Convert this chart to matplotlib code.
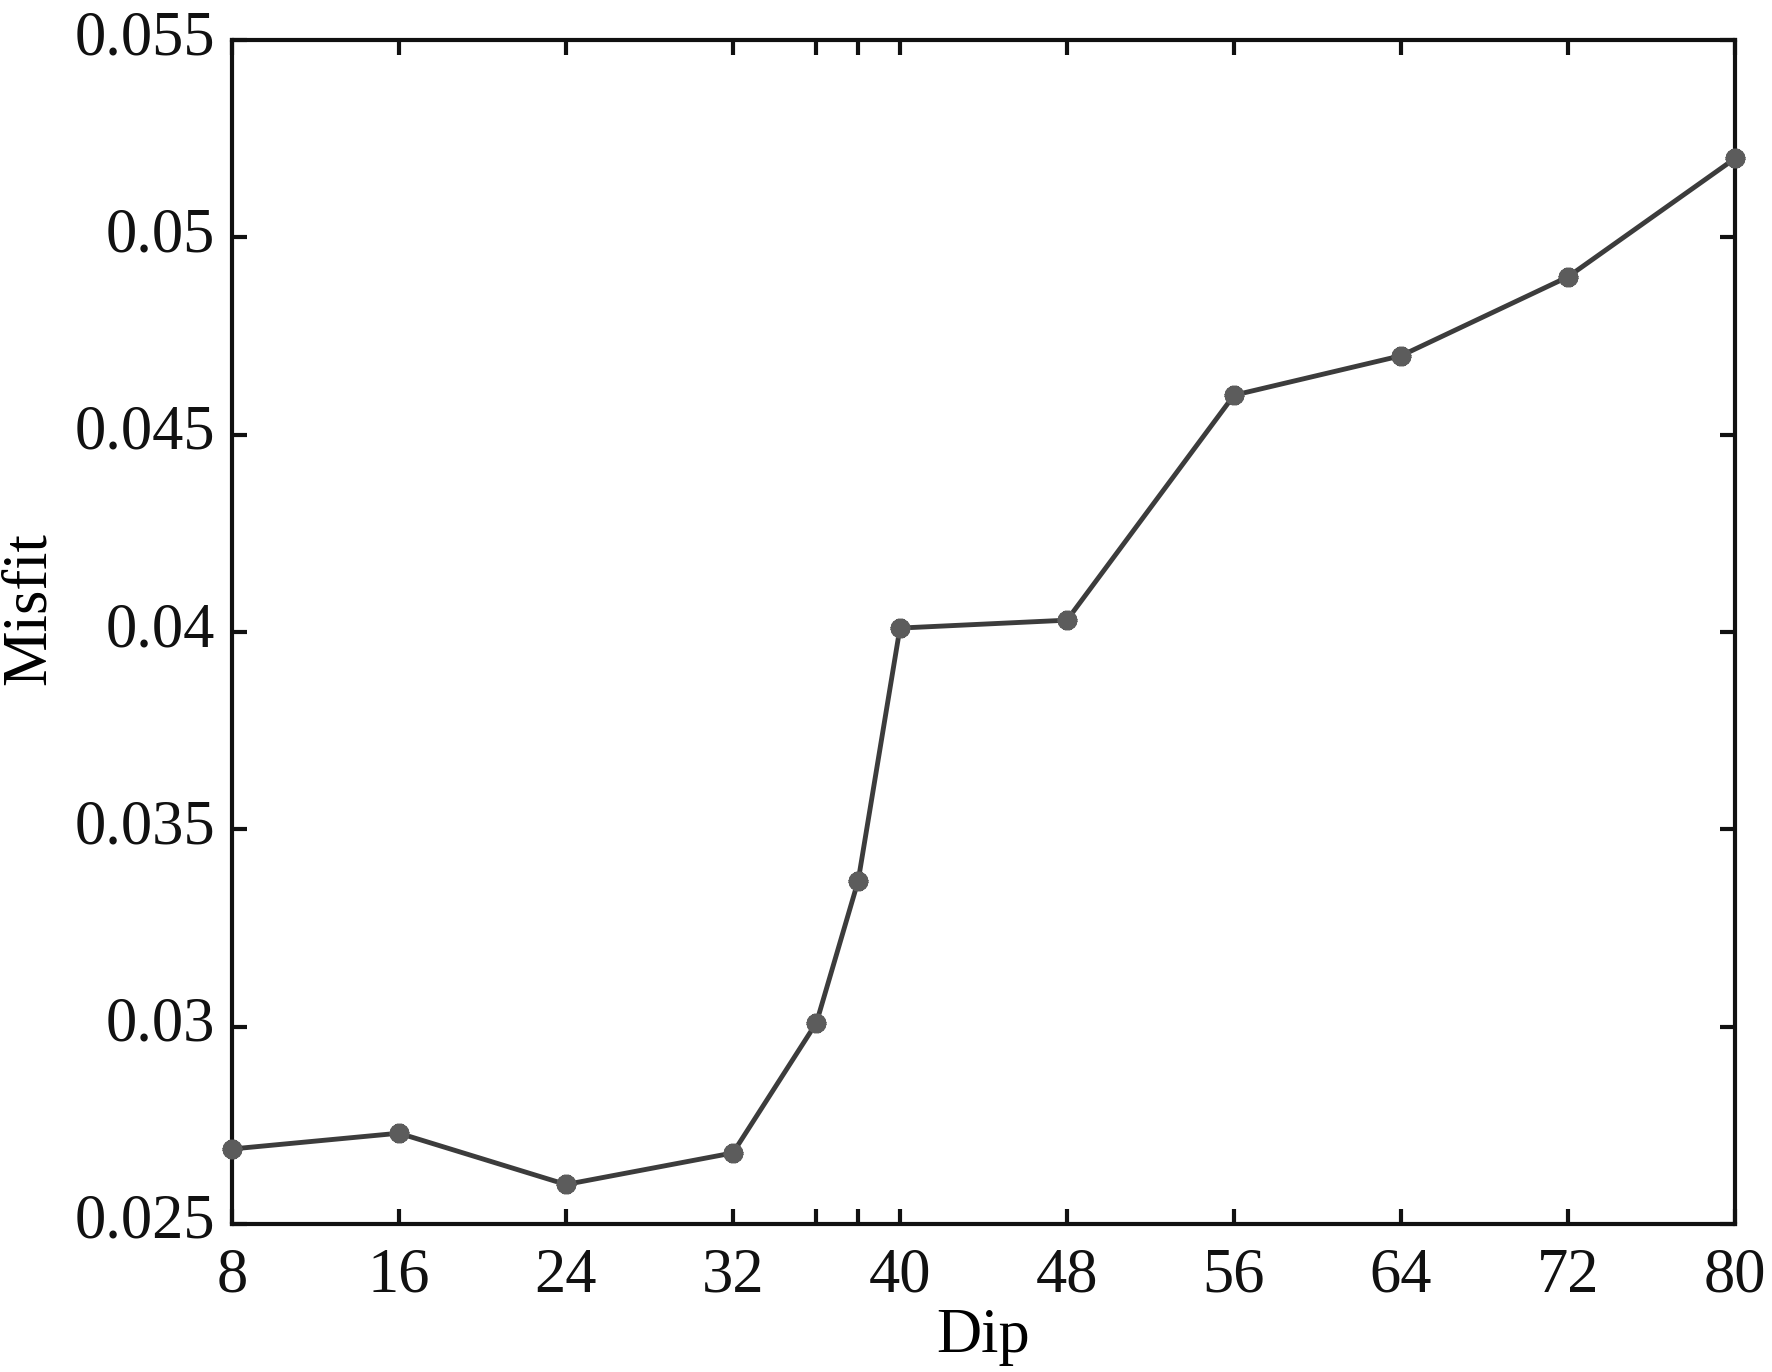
import matplotlib
matplotlib.use('Agg')
import matplotlib.pyplot as plt
from matplotlib.transforms import ScaledTranslation

# misfit against fault dip
dip = [8, 16, 24, 32, 36, 38, 40, 48, 56, 64, 72, 80]
misfit = [0.0269, 0.0273, 0.0260, 0.0268, 0.0301, 0.0337, 0.0401, 0.0403, 0.0460, 0.0470, 0.0490, 0.0520]

xtick_vals = [8, 16, 24, 32, 36, 38, 40, 48, 56, 64, 72, 80]
xtick_labels = ['8', '16', '24', '32', '', '', '40', '48', '56', '64', '72', '80']
ytick_vals = [0.025, 0.03, 0.035, 0.04, 0.045, 0.05, 0.055]
ytick_labels = ['0.025', '0.03', '0.035', '0.04', '0.045', '0.05', '0.055']

plt.rcParams['font.family'] = ['Liberation Serif', 'DejaVu Serif']

fig = plt.figure(figsize=(17.72, 13.72), dpi=100)
ax = fig.add_axes([0.1309, 0.1079, 0.8482, 0.8629])

ax.plot(dip, misfit, color='#3c3c3c', linewidth=3.5, zorder=2)
ax.plot(dip, misfit, linestyle='none', marker=(10, 2, 0), markersize=14,
        markeredgewidth=4, color='#5c5c5c', zorder=3, clip_on=False)

ax.set_xlim(8, 80)
ax.set_ylim(0.025, 0.055)
ax.set_xticks(xtick_vals)
ax.set_xticklabels(xtick_labels)
ax.set_yticks(ytick_vals)
ax.set_yticklabels(ytick_labels)

ax.tick_params(direction='in', length=11, width=3, labelsize=45,
               top=True, right=True, colors='#111111')
ax.tick_params(axis='x', pad=17)
ax.tick_params(axis='y', pad=12)
# y labels sit a little above their ticks in the original
for lab in ax.get_yticklabels():
    lab.set_transform(lab.get_transform() + ScaledTranslation(0, 0.08, fig.dpi_scale_trans))
for s in ax.spines.values():
    s.set_linewidth(3)
    s.set_color('#111111')

ax.set_xlabel('Dip', fontsize=45, labelpad=2)
ax.set_ylabel('Misfit', fontsize=45)
ax.yaxis.set_label_coords(-0.115, 0.52)

fig.savefig('out.png', dpi=100)
